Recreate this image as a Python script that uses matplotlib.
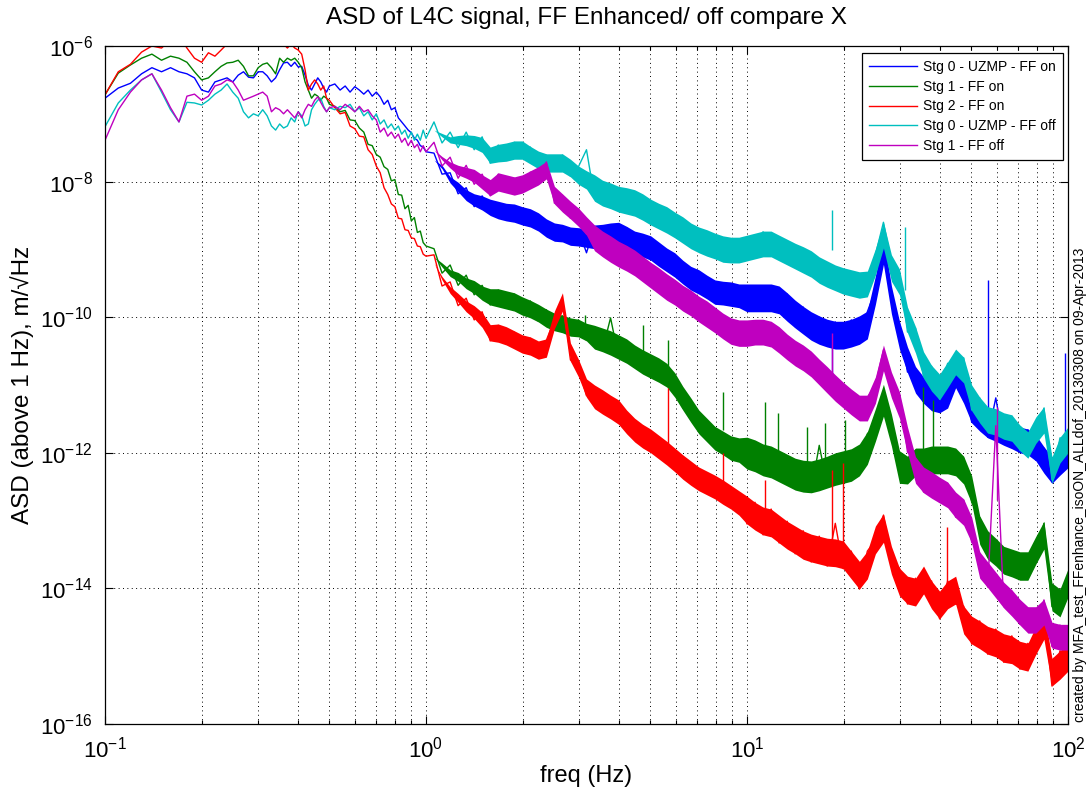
import numpy as np
import matplotlib
matplotlib.use("Agg")
import matplotlib.pyplot as plt
from matplotlib.ticker import FixedLocator, NullLocator, LogLocator, LogFormatterMathtext, NullFormatter

plt.rcParams['font.family'] = ['Liberation Sans', 'DejaVu Sans']
plt.rcParams['mathtext.fontset'] = 'custom'
plt.rcParams['mathtext.rm'] = 'Liberation Sans'
plt.rcParams['mathtext.it'] = 'Liberation Sans:italic'
plt.rcParams['mathtext.bf'] = 'Liberation Sans:bold'

# ---------------- data (frequency in Hz, ASD as log10 of m/sqrt(Hz)) ----------------
freq_hz = [
    0.10, 0.11, 0.12, 0.13, 0.14, 0.15, 0.16, 0.17, 0.18, 0.19, 0.20,
    0.21, 0.22, 0.23, 0.24, 0.25, 0.26, 0.27, 0.28, 0.29, 0.30,
    0.31, 0.32, 0.33, 0.34, 0.35, 0.36, 0.37, 0.38, 0.39, 0.40,
    0.41, 0.42, 0.43, 0.44, 0.45, 0.46, 0.47, 0.48, 0.49, 0.50,
    0.52, 0.54, 0.56, 0.58, 0.60, 0.62, 0.64, 0.66, 0.68, 0.70,
    0.72, 0.74, 0.76, 0.78, 0.80, 0.82, 0.84, 0.86, 0.88, 0.90,
    0.92, 0.94, 0.96, 0.98, 1.00,
    1.059, 1.122, 1.189, 1.259, 1.334, 1.413, 1.496, 1.585, 1.679, 1.778,
    1.884, 1.995, 2.113, 2.239, 2.371, 2.512, 2.661, 2.818, 2.985, 3.162,
    3.350, 3.548, 3.758, 3.981, 4.217, 4.467, 4.732, 5.012, 5.309, 5.623,
    5.957, 6.310, 6.683, 7.079, 7.499, 7.943, 8.414, 8.913, 9.441, 10.0,
    10.59, 11.22, 11.89, 12.59, 13.34, 14.13, 14.96, 15.85, 16.79, 17.78,
    18.84, 19.95, 21.13, 22.39, 23.71, 25.12, 26.61, 28.18, 29.85, 31.62,
    33.50, 35.48, 37.58, 39.81, 42.17, 44.67, 47.32, 50.12, 53.09, 56.23,
    59.57, 63.10, 66.83, 70.79, 74.99, 79.43, 84.14, 89.13, 94.41, 100.0,
]
# above 1 Hz the dense spectra appear as filled bands: frequencies of the band envelopes
band_freq_hz = freq_hz[66:]

# ---- Stg 0 - UZMP - FF on ----
stg0_uzmp_ff_on_log10 = [
    -6.77, -6.62, -6.55, -6.41, -6.32, -6.38, -6.32, -6.38, -6.41, -6.47, -6.65,
    -6.68, -6.53, -6.50, -6.47, -6.53, -6.43, -6.38, -6.46, -6.47, -6.38,
    -6.38, -6.44, -6.53, -6.47, -6.35, -6.25, -6.24, -6.30, -6.24, -6.31,
    -6.30, -6.43, -6.58, -6.65, -6.56, -6.47, -6.53, -6.62, -6.68, -6.59,
    -6.56, -6.65, -6.59, -6.68, -6.60, -6.65, -6.71, -6.65, -6.74, -6.68,
    -6.75, -6.86, -6.80, -6.94, -6.91, -7.06, -7.12, -7.18, -7.24, -7.28,
    -7.36, -7.39, -7.47, -7.49, -7.56,
    -7.58, -7.89, -7.87, -8.18, -8.09, -8.37, -8.21, -8.48, -8.32, -8.55,
    -8.36, -8.61, -8.43, -8.70, -8.58, -8.85, -8.66, -8.91, -8.71, -9.05,
    -8.67, -8.95, -8.64, -8.92, -8.68, -9.05, -8.79, -9.13, -8.92, -9.30,
    -9.08, -9.48, -9.27, -9.63, -9.41, -9.78, -9.50, -9.81, -9.54, -9.86,
    -9.57, -9.86, -9.57, -9.94, -9.66, -10.14, -9.85, -10.32, -10.00, -10.42,
    -10.07, -10.45, -10.04, -10.38, -9.92, -9.60, -8.80, -9.75, -10.09, -10.81,
    -10.75, -11.25, -11.01, -11.40, -10.97, -11.03, -10.90, -11.55, -11.31, -11.77,
    -11.19, -11.87, -11.58, -11.99, -11.66, -12.11, -11.93, -12.43, -11.84, -12.03,
]
stg0_uzmp_ff_on_band_hi = [
    -7.68, -7.76, -7.93, -8.01, -8.12, -8.18, -8.21, -8.26, -8.29, -8.32,
    -8.33, -8.37, -8.40, -8.46, -8.55, -8.61, -8.63, -8.67, -8.68, -8.70,
    -8.64, -8.63, -8.61, -8.60, -8.66, -8.73, -8.76, -8.80, -8.89, -8.98,
    -9.05, -9.16, -9.25, -9.30, -9.38, -9.45, -9.47, -9.48, -9.51, -9.51,
    -9.51, -9.51, -9.51, -9.54, -9.64, -9.75, -9.84, -9.92, -9.98, -10.03,
    -10.06, -10.06, -10.03, -9.98, -9.91, -9.39, -8.80, -9.54, -10.06, -10.44,
    -10.73, -10.88, -11.00, -11.03, -10.96, -10.66, -10.88, -11.18, -11.30, -11.40,
    -11.44, -11.50, -11.56, -11.62, -11.65, -11.74, -11.91, -12.06, -11.94, -11.84,
]
stg0_uzmp_ff_on_band_lo = [
    -7.68, -7.81, -8.02, -8.15, -8.28, -8.36, -8.42, -8.50, -8.55, -8.58,
    -8.60, -8.64, -8.67, -8.73, -8.82, -8.88, -8.89, -8.94, -8.95, -8.97,
    -8.99, -8.98, -8.97, -8.95, -9.01, -9.08, -9.11, -9.16, -9.25, -9.33,
    -9.41, -9.51, -9.60, -9.66, -9.73, -9.81, -9.82, -9.84, -9.86, -9.92,
    -9.92, -9.92, -9.92, -9.95, -10.06, -10.16, -10.25, -10.34, -10.40, -10.44,
    -10.47, -10.47, -10.44, -10.40, -10.32, -9.81, -9.22, -9.95, -10.47, -10.82,
    -11.12, -11.27, -11.38, -11.41, -11.34, -11.04, -11.27, -11.56, -11.68, -11.78,
    -11.83, -11.89, -11.94, -12.00, -12.03, -12.12, -12.30, -12.45, -12.33, -12.22,
]
stg0_uzmp_ff_on_spike_hz = [18.4, 56.4, 97.9]
stg0_uzmp_ff_on_spike_top = [-10.19, -9.45, -10.53]
stg0_uzmp_ff_on_spike_base = [-10.93, -11.52, -11.81]

# ---- Stg 1 - FF on ----
stg1_ff_on_log10 = [
    -6.72, -6.40, -6.28, -6.18, -6.12, -6.21, -6.15, -6.18, -6.24, -6.38, -6.50,
    -6.47, -6.38, -6.30, -6.25, -6.24, -6.21, -6.30, -6.44, -6.44, -6.32,
    -6.27, -6.25, -6.32, -6.41, -6.18, -6.24, -6.18, -6.21, -6.18, -6.24,
    -6.32, -6.53, -6.65, -6.77, -6.71, -6.74, -6.80, -6.74, -6.77, -6.86,
    -6.89, -6.97, -6.95, -7.09, -7.10, -7.21, -7.27, -7.45, -7.47, -7.60,
    -7.64, -7.78, -7.82, -7.99, -7.97, -8.19, -8.20, -8.40, -8.35, -8.58,
    -8.53, -8.75, -8.73, -8.90, -8.95,
    -8.99, -9.35, -9.23, -9.53, -9.38, -9.67, -9.53, -9.82, -9.60, -9.86,
    -9.66, -9.95, -9.76, -10.06, -9.89, -10.19, -9.98, -10.26, -10.04, -10.34,
    -10.14, -10.48, -10.01, -10.59, -10.35, -10.73, -10.51, -10.87, -10.63, -11.00,
    -10.85, -11.34, -11.22, -11.69, -11.52, -11.93, -11.71, -12.08, -11.81, -12.21,
    -11.84, -12.31, -11.93, -12.40, -12.05, -12.52, -12.14, -12.56, -11.89, -12.49,
    -12.03, -12.42, -11.97, -12.31, -11.72, -11.59, -11.10, -11.66, -12.01, -12.43,
    -11.96, -12.31, -11.93, -12.28, -11.93, -12.31, -12.08, -12.73, -12.96, -13.54,
    -13.29, -13.76, -13.45, -13.85, -13.49, -13.61, -13.04, -14.27, -14.04, -13.92,
]
stg1_ff_on_band_hi = [
    -9.11, -9.20, -9.30, -9.34, -9.42, -9.46, -9.54, -9.58, -9.58, -9.61,
    -9.64, -9.70, -9.75, -9.81, -9.88, -9.94, -9.97, -10.01, -10.03, -10.09,
    -10.12, -10.16, -10.20, -10.26, -10.32, -10.41, -10.48, -10.54, -10.60, -10.68,
    -10.82, -11.02, -11.19, -11.37, -11.49, -11.61, -11.68, -11.75, -11.78, -11.77,
    -11.81, -11.87, -11.90, -11.96, -12.02, -12.08, -12.11, -12.12, -12.09, -12.05,
    -12.00, -11.97, -11.94, -11.87, -11.69, -11.35, -10.99, -11.43, -11.97, -12.05,
    -11.93, -11.93, -11.90, -11.90, -11.90, -11.93, -12.05, -12.34, -12.93, -13.15,
    -13.26, -13.38, -13.42, -13.46, -13.46, -13.23, -13.01, -13.92, -14.01, -13.71,
]
stg1_ff_on_band_lo = [
    -9.11, -9.26, -9.40, -9.47, -9.58, -9.65, -9.75, -9.82, -9.85, -9.88,
    -9.91, -9.97, -10.01, -10.07, -10.15, -10.20, -10.23, -10.28, -10.29, -10.35,
    -10.47, -10.51, -10.56, -10.62, -10.68, -10.76, -10.84, -10.90, -10.96, -11.03,
    -11.18, -11.37, -11.55, -11.72, -11.84, -11.96, -12.03, -12.11, -12.14, -12.24,
    -12.28, -12.34, -12.37, -12.43, -12.49, -12.55, -12.58, -12.59, -12.56, -12.52,
    -12.48, -12.45, -12.42, -12.34, -12.17, -11.83, -11.46, -11.90, -12.45, -12.46,
    -12.34, -12.34, -12.31, -12.31, -12.31, -12.34, -12.46, -12.75, -13.35, -13.57,
    -13.67, -13.79, -13.83, -13.88, -13.88, -13.64, -13.42, -14.33, -14.42, -14.13,
]
stg1_ff_on_spike_hz = [3.13, 4.74, 5.68, 8.42, 11.4, 12.5, 15.4, 17.5, 20.2, 35.3, 37.9]
stg1_ff_on_spike_top = [-9.97, -10.11, -10.34, -11.10, -11.25, -11.41, -11.62, -11.56, -11.52, -11.03, -11.22]
stg1_ff_on_spike_base = [-10.26, -10.56, -10.78, -11.66, -11.96, -12.03, -12.18, -12.18, -12.11, -12.11, -12.11]

# ---- Stg 2 - FF on ----
stg2_ff_on_log10 = [
    -6.72, -6.38, -6.27, -6.09, -6.00, -6.03, -5.91, -5.85, -6.03, -6.18, -6.24,
    -6.10, -6.15, -6.06, -5.97, -5.85, -5.76, -5.82, -5.76, -5.85, -5.79,
    -5.88, -5.85, -5.91, -5.94, -6.00, -5.97, -6.03, -5.97, -6.03, -6.06,
    -6.12, -6.35, -6.65, -6.56, -6.50, -6.56, -6.65, -6.59, -6.77, -6.80,
    -6.91, -7.00, -6.98, -7.18, -7.22, -7.33, -7.34, -7.53, -7.60, -7.77,
    -7.87, -8.09, -8.19, -8.33, -8.37, -8.54, -8.55, -8.71, -8.72, -8.83,
    -8.84, -8.95, -8.96, -9.07, -9.10,
    -9.08, -9.54, -9.48, -9.83, -9.72, -10.04, -9.92, -10.35, -10.12, -10.40,
    -10.22, -10.51, -10.31, -10.60, -10.34, -10.04, -9.78, -10.63, -10.75, -11.16,
    -11.03, -11.40, -11.18, -11.55, -11.40, -11.81, -11.60, -11.97, -11.77, -12.15,
    -11.96, -12.36, -12.15, -12.53, -12.30, -12.65, -12.43, -12.80, -12.59, -13.05,
    -12.73, -13.21, -12.83, -13.33, -13.01, -13.49, -13.15, -13.61, -13.23, -13.67,
    -13.04, -13.71, -13.45, -14.01, -13.45, -13.29, -12.92, -13.58, -13.70, -14.23,
    -13.85, -14.08, -13.89, -14.45, -13.89, -14.23, -14.26, -14.82, -14.48, -14.97,
    -14.60, -15.09, -14.70, -15.19, -14.81, -14.97, -14.33, -15.44, -14.92, -15.01,
]
stg2_ff_on_band_hi = [
    -9.20, -9.40, -9.55, -9.65, -9.76, -9.83, -9.93, -10.11, -10.10, -10.14,
    -10.20, -10.26, -10.29, -10.35, -10.32, -9.91, -9.64, -10.38, -10.62, -10.91,
    -11.00, -11.07, -11.15, -11.22, -11.37, -11.49, -11.58, -11.65, -11.74, -11.83,
    -11.93, -12.03, -12.12, -12.21, -12.27, -12.33, -12.40, -12.48, -12.56, -12.64,
    -12.73, -12.80, -12.83, -12.92, -13.01, -13.08, -13.15, -13.20, -13.23, -13.26,
    -13.27, -13.30, -13.45, -13.60, -13.45, -13.08, -12.90, -13.38, -13.70, -13.82,
    -13.85, -13.67, -13.89, -14.04, -13.89, -13.82, -14.26, -14.41, -14.48, -14.56,
    -14.60, -14.67, -14.70, -14.78, -14.81, -14.56, -14.33, -15.03, -14.92, -14.81,
]
stg2_ff_on_band_lo = [
    -9.20, -9.45, -9.65, -9.78, -9.92, -10.02, -10.15, -10.35, -10.37, -10.41,
    -10.47, -10.53, -10.56, -10.62, -10.59, -10.17, -9.91, -10.65, -10.88, -11.18,
    -11.35, -11.43, -11.50, -11.58, -11.72, -11.84, -11.93, -12.00, -12.09, -12.18,
    -12.28, -12.39, -12.48, -12.56, -12.62, -12.68, -12.76, -12.83, -12.92, -13.05,
    -13.14, -13.21, -13.24, -13.33, -13.42, -13.49, -13.57, -13.61, -13.64, -13.67,
    -13.68, -13.71, -13.86, -14.01, -13.86, -13.49, -13.32, -13.79, -14.11, -14.23,
    -14.26, -14.08, -14.30, -14.45, -14.30, -14.23, -14.67, -14.82, -14.89, -14.97,
    -15.01, -15.09, -15.11, -15.19, -15.22, -14.97, -14.75, -15.44, -15.34, -15.22,
]
stg2_ff_on_spike_hz = [5.68, 8.42, 11.4, 18.4, 19.9, 42.0]
stg2_ff_on_spike_top = [-11.04, -12.00, -12.40, -12.25, -12.15, -13.09]
stg2_ff_on_spike_base = [-11.96, -12.55, -13.06, -13.43, -13.51, -14.17]

# ---- Stg 0 - UZMP - FF off ----
stg0_uzmp_ff_off_log10 = [
    -7.19, -6.84, -6.65, -6.50, -6.41, -6.68, -6.94, -7.12, -6.83, -6.84, -6.87,
    -6.80, -6.71, -6.65, -6.56, -6.68, -6.77, -6.97, -7.06, -7.00, -7.03,
    -6.94, -7.03, -7.18, -7.24, -7.15, -7.21, -7.18, -7.06, -7.12, -6.97,
    -7.03, -7.18, -7.15, -6.94, -6.86, -6.80, -6.77, -6.89, -6.97, -6.91,
    -6.94, -6.89, -6.91, -6.86, -6.97, -6.91, -7.03, -6.97, -7.09, -7.00,
    -7.15, -7.09, -7.21, -7.15, -7.24, -7.18, -7.30, -7.24, -7.36, -7.27,
    -7.39, -7.30, -7.39, -7.24, -7.36,
    -7.12, -7.43, -7.27, -7.50, -7.27, -7.53, -7.34, -7.73, -7.46, -7.68,
    -7.42, -7.65, -7.49, -7.80, -7.61, -7.84, -7.61, -7.92, -7.78, -7.53,
    -8.24, -8.02, -8.36, -8.11, -8.43, -8.17, -8.52, -8.30, -8.66, -8.42,
    -8.79, -8.57, -8.95, -8.71, -9.05, -8.80, -9.14, -8.86, -9.16, -8.83,
    -9.10, -8.74, -9.07, -8.83, -9.19, -8.95, -9.30, -9.07, -9.45, -9.22,
    -9.57, -9.32, -9.64, -9.38, -9.66, -9.08, -8.60, -9.19, -9.33, -10.22,
    -10.16, -10.88, -10.72, -11.21, -10.68, -10.84, -10.60, -11.37, -11.19, -11.69,
    -11.37, -11.78, -11.46, -11.96, -11.71, -11.84, -11.34, -12.40, -11.78, -11.81,
]
stg0_uzmp_ff_off_band_hi = [
    -7.24, -7.29, -7.34, -7.32, -7.31, -7.32, -7.35, -7.49, -7.45, -7.43,
    -7.40, -7.40, -7.48, -7.55, -7.59, -7.59, -7.59, -7.67, -7.77, -7.84,
    -7.90, -7.98, -8.02, -8.07, -8.09, -8.12, -8.18, -8.26, -8.32, -8.37,
    -8.45, -8.52, -8.61, -8.67, -8.71, -8.76, -8.80, -8.82, -8.82, -8.79,
    -8.76, -8.73, -8.73, -8.79, -8.85, -8.91, -8.96, -9.02, -9.11, -9.17,
    -9.23, -9.27, -9.30, -9.33, -9.32, -8.99, -8.60, -9.08, -9.29, -9.85,
    -10.14, -10.51, -10.71, -10.84, -10.66, -10.47, -10.59, -11.00, -11.18, -11.32,
    -11.35, -11.41, -11.44, -11.59, -11.69, -11.47, -11.32, -12.06, -11.77, -11.62,
]
stg0_uzmp_ff_off_band_lo = [
    -7.24, -7.34, -7.43, -7.45, -7.47, -7.51, -7.57, -7.73, -7.71, -7.70,
    -7.67, -7.67, -7.74, -7.81, -7.86, -7.86, -7.86, -7.93, -8.04, -8.11,
    -8.29, -8.36, -8.40, -8.45, -8.48, -8.51, -8.57, -8.64, -8.70, -8.76,
    -8.83, -8.91, -8.99, -9.05, -9.10, -9.14, -9.19, -9.20, -9.20, -9.17,
    -9.14, -9.11, -9.11, -9.17, -9.23, -9.29, -9.35, -9.41, -9.50, -9.56,
    -9.61, -9.66, -9.69, -9.72, -9.70, -9.38, -8.98, -9.47, -9.67, -10.23,
    -10.53, -10.90, -11.09, -11.22, -11.04, -10.85, -10.97, -11.38, -11.56, -11.71,
    -11.74, -11.80, -11.83, -11.97, -12.08, -11.86, -11.71, -12.45, -12.15, -12.00,
]
stg0_uzmp_ff_off_spike_hz = [18.4, 31.0]
stg0_uzmp_ff_off_spike_top = [-8.42, -8.67]
stg0_uzmp_ff_off_spike_base = [-9.01, -9.60]

# ---- Stg 1 - FF off ----
stg1_ff_off_log10 = [
    -7.39, -6.94, -6.68, -6.50, -6.41, -6.65, -6.91, -7.12, -6.74, -6.71, -6.80,
    -6.74, -6.59, -6.56, -6.50, -6.53, -6.65, -6.80, -6.77, -6.74, -6.71,
    -6.68, -6.74, -6.97, -6.91, -6.94, -7.00, -6.94, -7.00, -7.06, -6.97,
    -7.06, -6.94, -6.86, -6.89, -6.80, -6.75, -6.83, -6.91, -6.97, -6.91,
    -6.89, -6.94, -6.86, -6.91, -6.97, -6.89, -6.97, -6.94, -7.03, -7.09,
    -7.27, -7.21, -7.33, -7.27, -7.36, -7.30, -7.42, -7.36, -7.47, -7.39,
    -7.50, -7.45, -7.56, -7.47, -7.56,
    -7.42, -7.77, -7.64, -7.95, -7.76, -8.04, -7.89, -8.21, -7.89, -8.15,
    -7.95, -8.15, -7.86, -8.04, -7.71, -8.32, -8.20, -8.54, -8.40, -8.77,
    -8.67, -9.08, -8.83, -9.23, -8.96, -9.36, -9.13, -9.54, -9.30, -9.72,
    -9.47, -9.88, -9.63, -10.04, -9.79, -10.20, -9.97, -10.37, -10.07, -10.40,
    -10.06, -10.38, -10.09, -10.50, -10.28, -10.69, -10.44, -10.85, -10.65, -11.09,
    -10.88, -11.31, -11.09, -11.50, -11.18, -11.00, -10.48, -10.93, -11.13, -11.99,
    -12.08, -12.58, -12.30, -12.73, -12.45, -12.95, -12.70, -13.32, -13.48, -13.98,
    -11.60, -14.27, -14.04, -14.53, -14.29, -14.64, -14.17, -14.86, -14.54, -14.72,
]
stg1_ff_off_band_hi = [
    -7.53, -7.63, -7.71, -7.76, -7.79, -7.82, -7.90, -7.97, -7.87, -7.90,
    -7.93, -7.90, -7.84, -7.78, -7.70, -8.07, -8.18, -8.29, -8.39, -8.52,
    -8.64, -8.73, -8.80, -8.88, -8.94, -9.01, -9.10, -9.19, -9.27, -9.36,
    -9.44, -9.53, -9.60, -9.69, -9.76, -9.85, -9.94, -10.01, -10.04, -10.04,
    -10.03, -10.03, -10.06, -10.14, -10.25, -10.34, -10.41, -10.50, -10.62, -10.73,
    -10.85, -10.96, -11.06, -11.15, -11.15, -10.88, -10.41, -10.81, -11.10, -11.62,
    -12.06, -12.21, -12.28, -12.36, -12.43, -12.58, -12.68, -12.95, -13.46, -13.61,
    -13.76, -13.91, -14.02, -14.16, -14.27, -14.27, -14.16, -14.50, -14.53, -14.53,
]
stg1_ff_off_band_lo = [
    -7.53, -7.68, -7.80, -7.90, -7.95, -8.01, -8.11, -8.21, -8.14, -8.17,
    -8.20, -8.17, -8.11, -8.05, -7.96, -8.33, -8.45, -8.55, -8.66, -8.79,
    -9.02, -9.11, -9.19, -9.26, -9.32, -9.39, -9.48, -9.57, -9.66, -9.75,
    -9.82, -9.91, -9.98, -10.07, -10.15, -10.23, -10.32, -10.40, -10.43, -10.43,
    -10.41, -10.41, -10.44, -10.53, -10.63, -10.72, -10.79, -10.88, -11.00, -11.12,
    -11.24, -11.34, -11.44, -11.53, -11.53, -11.27, -10.79, -11.19, -11.49, -12.00,
    -12.45, -12.59, -12.67, -12.74, -12.81, -12.96, -13.07, -13.33, -13.85, -13.99,
    -14.14, -14.29, -14.41, -14.54, -14.66, -14.66, -14.54, -14.88, -14.91, -14.91,
]
stg1_ff_off_spike_hz = [18.4, 60.1]
stg1_ff_off_spike_top = [-10.23, -11.32]
stg1_ff_off_spike_base = [-10.93, -12.70]

series_labels = ["Stg 0 - UZMP - FF on", "Stg 1 - FF on", "Stg 2 - FF on",
                 "Stg 0 - UZMP - FF off", "Stg 1 - FF off"]
series_data = [stg0_uzmp_ff_on_log10, stg1_ff_on_log10, stg2_ff_on_log10,
               stg0_uzmp_ff_off_log10, stg1_ff_off_log10]
series_band_hi = [stg0_uzmp_ff_on_band_hi, stg1_ff_on_band_hi, stg2_ff_on_band_hi,
                  stg0_uzmp_ff_off_band_hi, stg1_ff_off_band_hi]
series_band_lo = [stg0_uzmp_ff_on_band_lo, stg1_ff_on_band_lo, stg2_ff_on_band_lo,
                  stg0_uzmp_ff_off_band_lo, stg1_ff_off_band_lo]
series_spike_hz = [stg0_uzmp_ff_on_spike_hz, stg1_ff_on_spike_hz, stg2_ff_on_spike_hz,
                   stg0_uzmp_ff_off_spike_hz, stg1_ff_off_spike_hz]
series_spike_top = [stg0_uzmp_ff_on_spike_top, stg1_ff_on_spike_top, stg2_ff_on_spike_top,
                    stg0_uzmp_ff_off_spike_top, stg1_ff_off_spike_top]
series_spike_base = [stg0_uzmp_ff_on_spike_base, stg1_ff_on_spike_base, stg2_ff_on_spike_base,
                     stg0_uzmp_ff_off_spike_base, stg1_ff_off_spike_base]
series_colors = ["#0000ff", "#008000", "#ff0000", "#00bfbf", "#bf00bf"]

title_text = "ASD of L4C signal, FF Enhanced/ off compare X"
xlabel_text = "freq (Hz)"
ylabel_text = "ASD (above 1 Hz), m/\u221aHz"
side_text = "created by MFA_test_FFenhance_isoON_ALLdof_20130308 on 09-Apr-2013"
y_major_ticks = [1e-16, 1e-14, 1e-12, 1e-10, 1e-8, 1e-6]
x_major_ticks = [0.1, 1, 10, 100]

# ---------------- figure ----------------
W, H = 1088, 796
fig = plt.figure(figsize=(W / 100, H / 100), dpi=100)
ax = fig.add_axes([105 / W, 1 - 724 / H, (1068 - 105) / W, (724 - 46) / H])


def to_asd(a):
    return np.power(10.0, np.asarray(a, dtype=float))


f = np.array(freq_hz)
fb = np.array(band_freq_hz)
for i in range(len(series_labels)):
    col = series_colors[i]
    z = 2 + i
    ax.fill_between(fb, to_asd(series_band_lo[i]), to_asd(series_band_hi[i]),
                    color=col, lw=0, zorder=z)
    ax.vlines(series_spike_hz[i], to_asd(series_spike_base[i]), to_asd(series_spike_top[i]),
              color=col, lw=1.0, zorder=z)
    ax.plot(f, to_asd(series_data[i]), color=col, lw=1.0, label=series_labels[i], zorder=z)

ax.set_xscale('log')
ax.set_yscale('log')
ax.set_xlim(0.1, 100)
ax.set_ylim(1e-16, 1e-6)

ax.xaxis.set_major_locator(FixedLocator(x_major_ticks))
ax.xaxis.set_minor_locator(LogLocator(base=10, subs=range(2, 10), numticks=20))
ax.xaxis.set_minor_formatter(NullFormatter())
ax.xaxis.set_major_formatter(LogFormatterMathtext())
ax.yaxis.set_major_locator(FixedLocator(y_major_ticks))
ax.yaxis.set_minor_locator(NullLocator())
ax.yaxis.set_major_formatter(LogFormatterMathtext())

ax.tick_params(which='both', direction='in', top=True, right=True, labelsize=16, width=0.8)
ax.tick_params(which='major', length=6, pad=9)
ax.tick_params(which='minor', length=3)

grid_style = dict(color='black', linestyle=(0, (1, 3.5)), linewidth=0.7)
ax.grid(True, which='major', axis='both', **grid_style)
ax.grid(True, which='minor', axis='x', **grid_style)
for sp in ax.spines.values():
    sp.set_linewidth(0.9)
    sp.set_zorder(10)

leg = ax.legend(loc='upper right', bbox_to_anchor=(0.995, 0.99), borderaxespad=0,
                fontsize=10, fancybox=False, framealpha=1, edgecolor='black',
                handlelength=3.5, handletextpad=0.45, labelspacing=0.42, borderpad=0.5)
leg.get_frame().set_linewidth(0.9)
leg.set_zorder(20)

fig.text(586 / W, 1 - 18 / H, title_text, ha='center', va='center', fontsize=17.5)
fig.text(586 / W, 1 - 776 / H, xlabel_text, ha='center', va='center', fontsize=17)
fig.text(22 / W, 1 - 385 / H, ylabel_text, ha='center', va='center', rotation=90, fontsize=17.5)
fig.text(1080 / W, 1 - 722 / H, side_text, ha='center', va='bottom', rotation=90, fontsize=10)

fig.savefig("out.png", dpi=100)
